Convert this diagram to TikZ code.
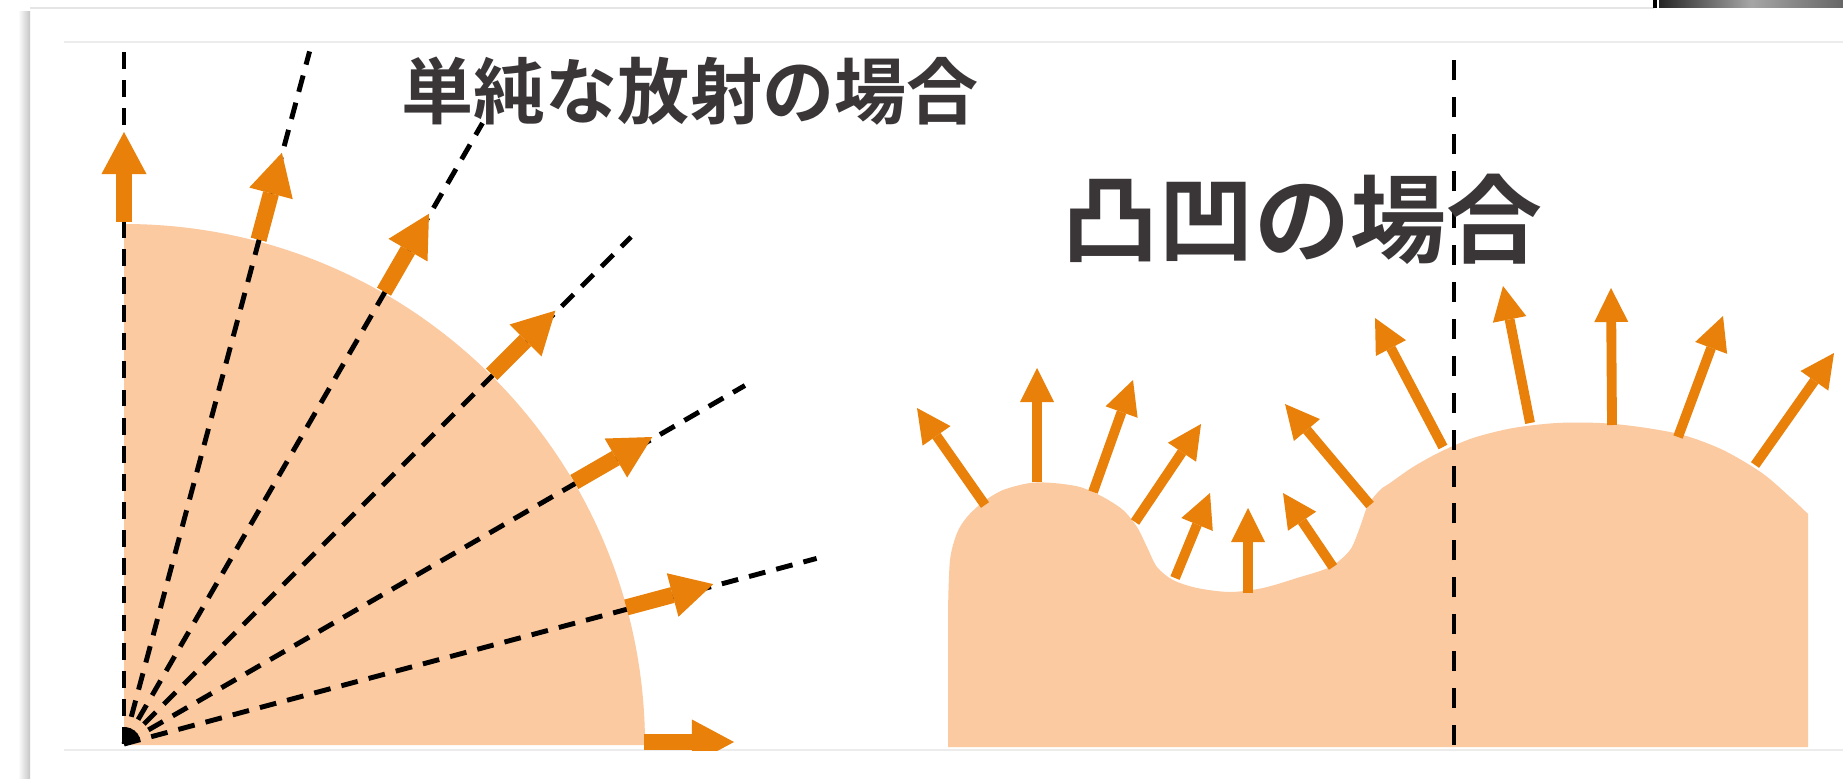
\documentclass[tikz,border=0pt]{standalone}
\usepackage{fontspec}
\newfontfamily\cjk[BoldFont={Noto Sans CJK JP Bold}]{Noto Sans CJK JP}
\usetikzlibrary{arrows.meta}
\definecolor{peach}{RGB}{251,202,161}
\definecolor{arroworange}{RGB}{232,128,10}
\definecolor{txt}{RGB}{58,54,56}
\tikzset{
  ray/.style={black, line width=1.4pt, dash pattern=on 4.8pt off 3.2pt},
  vline/.style={black, line width=1.3pt, dash pattern=on 5.7pt off 4.8pt},
  bigarrow/.style={arroworange, line width=4.6pt, -{Triangle[length=4.2mm,width=4.5mm,line width=0pt]}},
  smallarrow/.style={arroworange, line width=2.8pt, -{Triangle[length=3.4mm,width=3.4mm,line width=0pt]}},
  title/.style={text=txt, inner sep=0pt},
}
\begin{document}
\begin{tikzpicture}[x=0.01cm, y=0.01cm]
\useasboundingbox (0,0) rectangle (1843,778);
\fill[white] (0,0) rectangle (1843,778);
% screenshot frame
\shade[left color=white, right color=gray!45] (18,0) rectangle (30,766);
\draw[gray!20, line width=0.6pt] (30,770) -- (1654,770);
\fill[black] (1653,770) rectangle (1657,778);
\shade[left color=black!85, right color=black!60, middle color=black!35] (1659,770) rectangle (1843,778);
\draw[gray!15, line width=0.6pt] (64,736) -- (1843,736);
\draw[gray!15, line width=0.6pt] (64,28) -- (1843,28);
% left: simple radiation
\begin{scope}
\clip (0,28) rectangle (1843,736);
\fill[peach] (124,33) -- (645,33) arc[start angle=0, end angle=90, radius=521] -- cycle;
\foreach \a in {90,75,60,45,30,15}
  \draw[ray] (124,34) -- ({124+717*cos(\a)},{34+717*sin(\a)});
\foreach \a in {90,75,60,45,30,15,0}
  \draw[bigarrow] ({124+520*cos(\a)},{36+520*sin(\a)}) -- ({124+610*cos(\a)},{36+610*sin(\a)});
\end{scope}
% right: bumpy surface
\fill[peach] (948,31) -- plot[smooth, tension=0.5] coordinates {(948,168) (950,218) (957,245) (967,261) (983,276) (1003,288) (1030,295) (1053,295) (1080,291) (1103,281) (1123,268) (1137,251) (1147,231) (1157,211) (1173,198) (1197,190) (1230,186) (1263,190) (1297,200) (1330,211) (1350,228) (1360,251) (1368,273) (1380,288) (1390,295) (1413,311) (1440,326) (1473,340) (1513,350) (1557,355) (1600,355) (1640,351) (1683,343) (1723,328) (1762,305) (1790,281) (1806,266)} -- (1808,264) -- (1808,31) -- cycle;
\draw[vline] (1454,33) -- (1454,721);
\foreach \sx/\sy/\tx/\ty in {985/273/917/370, 1037/296/1037/410, 1093/286/1133/398, 1135/256/1201/354, 1175/200/1210/285, 1248/185/1248/270, 1333/211/1283/285, 1370/273/1285/374, 1443/331/1375/460, 1530/355/1503/492, 1612/353/1611/490, 1678/341/1723/462, 1755/313/1834/425}
  \draw[smallarrow] (\sx,\sy) -- (\tx,\ty);
% titles
\node[title, font=\cjk\bfseries\fontsize{20.5pt}{24pt}\selectfont] (t1) at (690,687) {単純な放射の場合};
\node[title, font=\cjk\bfseries\fontsize{27.3pt}{32pt}\selectfont] (t2) at (1302,559) {凸凹の場合};
\end{tikzpicture}
\end{document}
